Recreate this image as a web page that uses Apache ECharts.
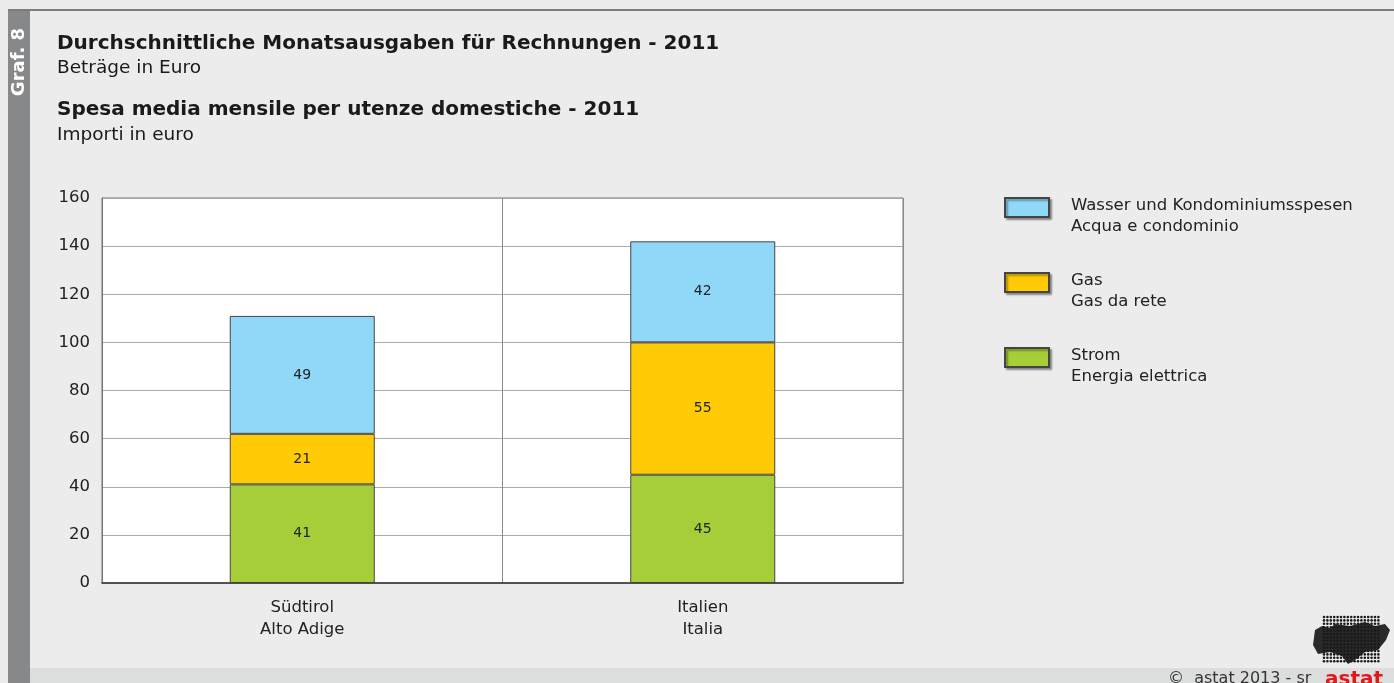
<!DOCTYPE html>
<html>
<head>
<meta charset="utf-8">
<script src="https://cdn.jsdelivr.net/npm/echarts@6/dist/echarts.min.js"></script>
<style>
html,body{margin:0;padding:0;background:#ebeceb;}
#chart{width:1394px;height:683px;}
</style>
</head>
<body>
<div id="chart"></div>
<script>
let categories = ['Südtirol\nAlto Adige', 'Italien\nItalia'];
let strom = [41, 45];
let gas = [21, 55];
let wasser = [49, 42];
let yTicks = [0, 20, 40, 60, 80, 100, 120, 140, 160];

let font = '"DejaVu Sans", sans-serif';
let myChart = echarts.init(document.getElementById('chart'));

// logo dots (decoration only)
let logo = [];
for (let r = 0; r < 14; r++) {
  for (let c = 0; c < 17; c++) {
    logo.push({
      type: 'circle',
      shape: { cx: 1324 + c * 3.4, cy: 617 + r * 3.4, r: 1.3 },
      style: { fill: '#1a1a1a' }
    });
  }
}

function barSeries(name, data, color) {
  return {
    name: name,
    type: 'bar',
    stack: 'all',
    barWidth: 145,
    data: data,
    itemStyle: { color: color, borderColor: '#444', borderWidth: 1 },
    label: {
      show: true,
      position: 'inside',
      color: '#222',
      fontFamily: font,
      fontSize: 14
    }
  };
}

let option = {
  backgroundColor: '#ebeceb',
  animation: false,
  grid: {
    left: 102, right: 491, top: 198, bottom: 100,
    show: true, backgroundColor: '#fff', borderColor: '#777', borderWidth: 1
  },
  legend: {
    orient: 'vertical',
    left: 1004,
    top: 178,
    padding: 0,
    itemWidth: 44,
    itemHeight: 19,
    itemGap: 16,
    icon: 'rect',
    itemStyle: { shadowColor: 'rgba(0,0,0,0.35)', shadowBlur: 2, shadowOffsetX: 2, shadowOffsetY: 2 },
    data: ['Wasser und Kondominiumsspesen\nAcqua e condominio', 'Gas\nGas da rete', 'Strom\nEnergia elettrica'],
    formatter: function (name) {
      return '{s| }\n' + name;
    },
    textStyle: {
      fontFamily: font, fontSize: 16.5, color: '#222',
      lineHeight: 21, padding: [0, 0, 0, 17],
      rich: { s: { fontSize: 8, lineHeight: 17 } }
    }
  },
  xAxis: {
    type: 'category',
    data: categories,
    axisLine: { lineStyle: { color: '#333', width: 1.5 } },
    axisTick: { show: false },
    splitLine: { show: true, lineStyle: { color: '#888' } },
    axisLabel: {
      fontFamily: font, fontSize: 16.5, color: '#222',
      lineHeight: 22, margin: 14
    }
  },
  yAxis: {
    type: 'value',
    min: yTicks[0],
    max: yTicks[yTicks.length - 1],
    interval: 20,
    axisLine: { show: true, lineStyle: { color: '#777' } },
    axisTick: { show: false },
    splitLine: { lineStyle: { color: '#aaa' } },
    axisLabel: { fontFamily: font, fontSize: 16.5, color: '#222', margin: 12 }
  },
  series: [
    barSeries('Strom\nEnergia elettrica', strom, '#a6ce39'),
    barSeries('Gas\nGas da rete', gas, '#ffcb05'),
    barSeries('Wasser und Kondominiumsspesen\nAcqua e condominio', wasser, '#8fd8f8')
  ],
  graphic: [
    { type: 'rect', shape: { x: 8, y: 10, width: 22, height: 673 }, style: { fill: '#86888a' } },
    { type: 'rect', shape: { x: 8, y: 9, width: 1386, height: 2 }, style: { fill: '#7a7c7e' } },
    { type: 'rect', shape: { x: 30, y: 668, width: 1364, height: 15 }, style: { fill: '#dcdddd' } },
    {
      type: 'text', x: 19, y: 62, rotation: Math.PI / 2,
      style: { text: 'Graf. 8', fill: '#fff', font: 'bold 18px ' + font, align: 'center', verticalAlign: 'middle' }
    },
    { type: 'text', x: 57, y: 44, style: { text: 'Durchschnittliche Monatsausgaben für Rechnungen - 2011', fill: '#1a1a1a', font: 'bold 20px ' + font, verticalAlign: 'middle' } },
    { type: 'text', x: 57, y: 68, style: { text: 'Beträge in Euro', fill: '#1a1a1a', font: '18.5px ' + font, verticalAlign: 'middle' } },
    { type: 'text', x: 57, y: 110, style: { text: 'Spesa media mensile per utenze domestiche - 2011', fill: '#1a1a1a', font: 'bold 20px ' + font, verticalAlign: 'middle' } },
    { type: 'text', x: 57, y: 135, style: { text: 'Importi in euro', fill: '#1a1a1a', font: '18.5px ' + font, verticalAlign: 'middle' } },
    { type: 'text', x: 1168, y: 679, style: { text: '©  astat 2013 - sr', fill: '#333', font: '16px ' + font, verticalAlign: 'middle' } },
    {
      type: 'polygon',
      shape: { points: [[1315, 630], [1322, 626], [1330, 628], [1335, 624], [1350, 626], [1365, 622], [1375, 626], [1385, 624], [1390, 630], [1386, 640], [1378, 650], [1365, 652], [1355, 660], [1348, 664], [1342, 656], [1330, 652], [1318, 654], [1313, 645]] },
      style: { fill: '#2a2a2a' }
    },
    { type: 'group', children: logo },
    { type: 'text', x: 1325, y: 680, style: { text: 'astat', fill: '#e3161b', font: 'bold 20px ' + font, verticalAlign: 'middle' } }
  ]
};
myChart.setOption(option);
</script>
</body>
</html>
